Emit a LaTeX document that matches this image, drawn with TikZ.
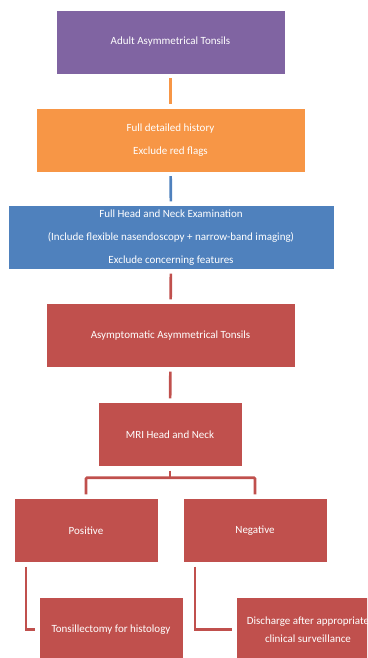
\documentclass[tikz,border=0pt]{standalone}
\usepackage{fontspec}
\setmainfont{Carlito}
\definecolor{purp}{HTML}{8064A2}
\definecolor{oran}{HTML}{F79646}
\definecolor{blu}{HTML}{4F81BD}
\definecolor{rd}{HTML}{C0504D}
\begin{document}
\begin{tikzpicture}[x=1pt,y=-1pt,
  box/.style={draw=white,line width=0.4pt,text=white,align=center,inner sep=0pt,
    minimum height=64pt,font=\fontsize{11}{23}\selectfont},
  link/.style={line width=2.6pt,shorten <=4pt,shorten >=4pt}]
\clip (0,0) rectangle (367,658);

\node[box,fill=purp,minimum width=229pt] (adult) at (170.5,42) {Adult Asymmetrical Tonsils};
\node[box,fill=oran,minimum width=269pt] (hist) at (170.5,140) {Full detailed history\\Exclude red flags};
\node[box,fill=blu,minimum width=326pt] (exam) at (171,237.5) {Full Head and Neck Examination\\(Include flexible nasendoscopy + narrow-band imaging)\\Exclude concerning features};
\node[box,fill=rd,minimum width=249pt] (asym) at (170.5,335.5) {Asymptomatic Asymmetrical Tonsils};
\node[box,fill=rd,minimum width=144pt] (mri) at (170,434.5) {MRI Head and Neck};
\node[box,fill=rd,minimum width=144pt] (pos) at (86,530.5) {Positive};
\node[box,fill=rd,minimum width=144pt] (neg) at (255,530.5) {Negative};
\node[box,fill=rd,minimum width=144pt] (tons) at (111,629.5) {Tonsillectomy for histology};
\node[box,fill=rd,minimum width=144pt,font=\fontsize{11}{18}\selectfont] (disc) at (308,629.5) {Discharge after appropriate\\clinical surveillance};

\draw[link,oran] (adult) -- (hist);
\draw[link,blu] (hist) -- (exam);
\draw[link,rd] (exam) -- (asym);
\draw[link,rd] (asym) -- (mri);
\draw[link,rd,shorten >=0pt] (mri.south) -- ++(0,11) coordinate (fork);
\draw[link,rd,shorten <=0pt,rounded corners=1pt] (fork) -| (pos.north);
\draw[link,rd,shorten <=0pt,rounded corners=1pt] (fork) -| (neg.north);
\draw[link,rd] ([xshift=12pt]pos.south west) |- (tons.west);
\draw[link,rd] ([xshift=12pt]neg.south west) |- (disc.west);

\end{tikzpicture}
\end{document}
